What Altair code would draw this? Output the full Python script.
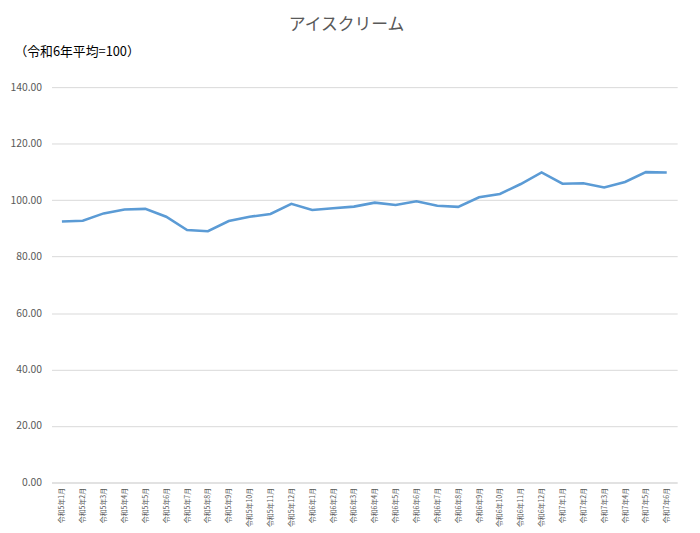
import altair as alt
import pandas as pd

months = [
    "令和5年1月", "令和5年2月", "令和5年3月", "令和5年4月", "令和5年5月", "令和5年6月",
    "令和5年7月", "令和5年8月", "令和5年9月", "令和5年10月", "令和5年11月", "令和5年12月",
    "令和6年1月", "令和6年2月", "令和6年3月", "令和6年4月", "令和6年5月", "令和6年6月",
    "令和6年7月", "令和6年8月", "令和6年9月", "令和6年10月", "令和6年11月", "令和6年12月",
    "令和7年1月", "令和7年2月", "令和7年3月", "令和7年4月", "令和7年5月", "令和7年6月",
]
values = [
    92.4, 92.7, 95.3, 96.7, 96.9, 94.1,
    89.4, 89.0, 92.6, 94.1, 95.1, 98.7,
    96.5, 97.1, 97.7, 99.1, 98.3, 99.6,
    98.0, 97.6, 101.0, 102.2, 105.7, 109.8,
    105.8, 106.0, 104.5, 106.4, 109.9, 109.8,
]
y_ticks = [0, 20, 40, 60, 80, 100, 120, 140]

df = pd.DataFrame({"month": months, "value": values})

FONT = "Noto Sans CJK JP"
GRAY = "#595959"

chart = alt.Chart(df).mark_line(color="#5B9BD5", strokeWidth=2.6).encode(
    x=alt.X(
        "month:O",
        sort=months,
        scale=alt.Scale(type="point", padding=0.5),
        axis=alt.Axis(
            title=None,
            labelAngle=-90,
            labelFontSize=7,
            labelColor=GRAY,
            labelFont=FONT,
            labelPadding=5,
            ticks=False,
            domain=True,
            domainColor="#d9d9d9",
            grid=False,
        ),
    ),
    y=alt.Y(
        "value:Q",
        scale=alt.Scale(domain=[0, 140]),
        axis=alt.Axis(
            values=y_ticks,
            format=".2f",
            title="（令和6年平均=100）",
            titleAngle=0,
            titleAlign="left",
            titleBaseline="middle",
            titleX=-38,
            titleY=-36,
            titleFontSize=13,
            titleFontWeight="normal",
            titleColor="#000000",
            titleFont=FONT,
            labelFontSize=10.5,
            labelColor=GRAY,
            labelFont=FONT,
            labelPadding=10,
            ticks=False,
            domain=False,
            grid=True,
            gridColor="#d9d9d9",
            gridWidth=1,
        ),
    ),
).properties(
    width=633,
    height=400,
    background="white",
    autosize=alt.AutoSizeParams(type="none"),
    padding={"left": 44, "top": 77, "right": 15, "bottom": 48},
    title=alt.TitleParams(
        "アイスクリーム",
        fontSize=17,
        fontWeight="normal",
        color=GRAY,
        font=FONT,
        anchor="middle",
        dx=-18,
        offset=12,
    ),
).configure_view(strokeWidth=0, stroke="transparent")

chart.save("out.html", embed_options={"renderer": "svg", "actions": False})
